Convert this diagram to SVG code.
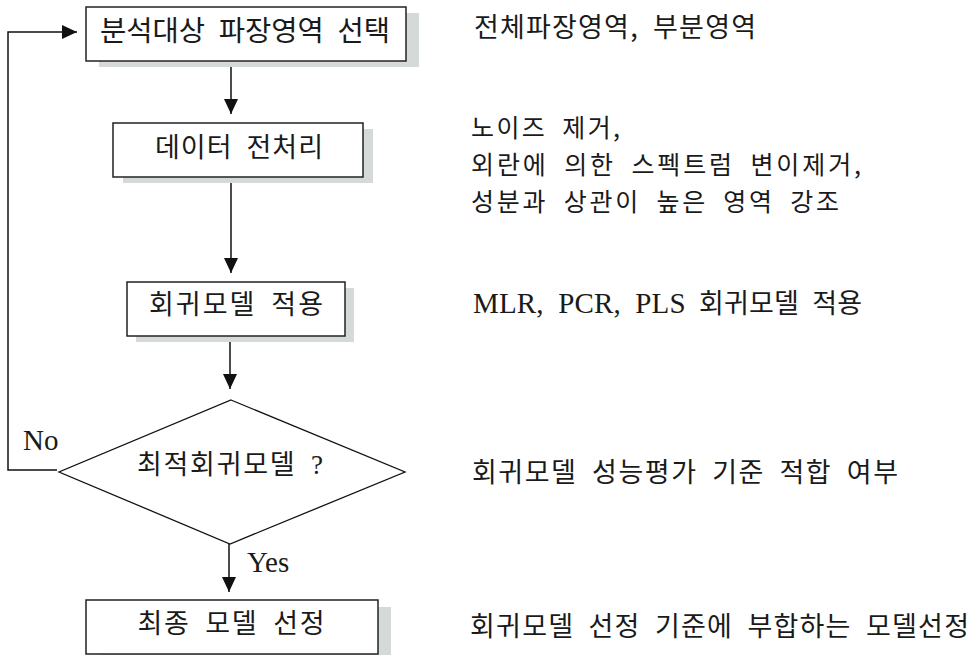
<svg xmlns="http://www.w3.org/2000/svg" width="976" height="655" viewBox="0 0 976 655">
<style>
.box{fill:#fff;stroke:#222;stroke-width:1.5}
.shadow{fill:#d5d9d7;stroke:none}
.kr{font-family:"Noto Sans CJK KR","Noto Sans",sans-serif;font-size:27px;fill:#1a1a1a;word-spacing:7px}
.kr25{font-size:25px}
.lat{font-family:"Liberation Serif","Noto Sans CJK KR",serif;font-size:29px;fill:#1a1a1a}
.mid{text-anchor:middle}
.conn{fill:none;stroke:#111;stroke-width:1.5}
</style>
<defs>
<marker id="ah" markerUnits="userSpaceOnUse" markerWidth="16" markerHeight="16" refX="15" refY="7" orient="auto" viewBox="0 0 16 14">
<path d="M0,0 L15,7 L0,14 Z" fill="#111"/>
</marker>
</defs>
<rect width="976" height="655" fill="#fff"/>

<g id="connectors">
<line class="conn" x1="231" y1="61" x2="231" y2="114" marker-end="url(#ah)"/>
<line class="conn" x1="231" y1="177" x2="231" y2="273" marker-end="url(#ah)"/>
<line class="conn" x1="230" y1="336" x2="230" y2="389" marker-end="url(#ah)"/>
<line class="conn" x1="229" y1="544" x2="229" y2="592" marker-end="url(#ah)"/>
<polyline class="conn" points="57,470 8,470 8,32 77,32" marker-end="url(#ah)"/>
<text class="lat" x="23" y="450">No</text>
<text class="lat" x="247" y="572">Yes</text>
</g>

<g id="node-select">
<rect class="shadow" x="99" y="13" width="320" height="54"/>
<rect class="box" x="86" y="7" width="320" height="54"/>
<text class="kr mid" x="245" y="41" style="font-size:28px" textLength="290" lengthAdjust="spacingAndGlyphs">분석대상 파장영역 선택</text>
</g>

<g id="node-preprocess">
<rect class="shadow" x="123" y="129" width="250" height="54"/>
<rect class="box" x="113" y="123" width="250" height="54"/>
<text class="kr mid" x="239" y="157" textLength="168">데이터 전처리</text>
</g>

<g id="node-regression">
<rect class="shadow" x="136" y="288" width="218" height="54"/>
<rect class="box" x="127" y="282" width="218" height="54"/>
<text class="kr mid" x="236" y="314" textLength="174">회귀모델 적용</text>
</g>

<g id="node-decision">
<polygon points="231,400 405,472 230,544 59,472" fill="#fff" stroke="#111" stroke-width="1.3"/>
<text class="kr mid" x="230" y="474" textLength="186">최적회귀모델 <tspan class="lat" style="font-size:27px">?</tspan></text>
</g>

<g id="node-final">
<rect class="shadow" x="99" y="607" width="292" height="54"/>
<rect class="box" x="86" y="600" width="292" height="54"/>
<text class="kr mid" x="231" y="633" textLength="187">최종 모델 선정</text>
</g>

<g id="notes">
<text class="kr" x="474" y="37" textLength="282">전체파장영역, 부분영역</text>
<text class="kr kr25" x="471" y="137" textLength="149">노이즈 제거,</text>
<text class="kr kr25" x="471" y="174" textLength="390">외란에 의한 스펙트럼 변이제거,</text>
<text class="kr kr25" x="471" y="211" textLength="368">성분과 상관이 높은 영역 강조</text>
<text class="kr" x="473" y="313" textLength="389"><tspan class="lat">MLR, PCR, PLS</tspan> 회귀모델 적용</text>
<text class="kr" x="472" y="482" textLength="426">회귀모델 성능평가 기준 적합 여부</text>
<text class="kr" x="470" y="636" textLength="499">회귀모델 선정 기준에 부합하는 모델선정</text>
</g>
</svg>
